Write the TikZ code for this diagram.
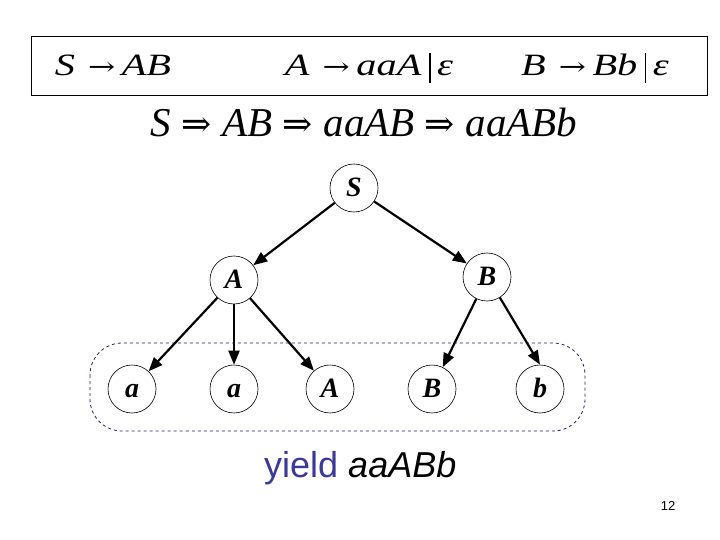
\documentclass[tikz,border=0pt]{standalone}
\usepackage{fontspec}
\usepackage{graphicx}
\setmainfont{Liberation Serif}
\newfontfamily\sansf{Liberation Sans}
\newfontfamily\symf{DejaVu Serif}
\usetikzlibrary{arrows.meta}
\definecolor{yieldblue}{RGB}{58,58,150}
\definecolor{dashnavy}{RGB}{30,30,100}
\newcommand{\ra}{\hspace{10pt}{\symf\fontsize{25}{25}\selectfont →}\hspace{5pt}}
\newcommand{\Ra}{\hspace{10pt}{\symf\fontsize{36}{36}\selectfont ⇒}\hspace{11pt}}
\newcommand{\tbar}{\hspace{6pt}\rule[-7pt]{1pt}{30pt}\hspace{5pt}}
\begin{document}
\begin{tikzpicture}[x=1pt,y=-1pt,
  tnode/.style={circle,draw,line width=0.6pt,minimum size=48pt,inner sep=0pt,
    text height=17pt,text depth=0pt,
    font=\fontsize{28}{28}\selectfont\bfseries\itshape},
  arr/.style={-{Triangle[length=14pt,width=11pt]},line width=2.2pt},
  gram/.style={font=\fontsize{31}{31}\selectfont,inner sep=0pt,anchor=base},
  deriv/.style={font=\fontsize{41}{41}\selectfont,inner sep=0pt,anchor=base}]
\useasboundingbox (0,0) rectangle (720,540);
% grammar box
\draw[line width=1pt] (31,37) rectangle (707,96);
\node[gram] (g1) at (113,76) {\scalebox{1.3}[1]{\textit{S}\ra\textit{AB}}};
\node[gram] (g2) at (369,76) {\scalebox{1.3}[1]{\textit{A}\ra\textit{aaA}\tbar\textit{ε}}};
\node[gram] (g3) at (595,76) {\scalebox{1.3}[1]{\textit{B}\ra\textit{Bb}\tbar\textit{ε}}};
% derivation
\node[deriv] (d) at (364,137) {\textit{S}\Ra\textit{AB}\Ra\textit{aaAB}\Ra\textit{aaABb}};
% tree
\node[tnode] (S) at (354,188) {S};
\node[tnode] (A) at (234,280) {A};
\node[tnode] (B) at (487,277) {B};
\node[tnode] (a1) at (132,389) {a};
\node[tnode] (a2) at (234,389) {a};
\node[tnode] (A2) at (330,389) {A};
\node[tnode] (B2) at (432,389) {B};
\node[tnode] (b) at (540,389) {b};
\draw[arr] (S) -- (A);
\draw[arr] (S) -- (B);
\draw[arr] (A) -- (a1);
\draw[arr] (A) -- (a2);
\draw[arr] (A) -- (A2);
\draw[arr] (B) -- (B2);
\draw[arr] (B.-58) -- (b.north);
% yield outline
\draw[dashnavy,dashed,line width=0.8pt,rounded corners=32pt] (90,343) rectangle (585,431);
\node[inner sep=0pt,anchor=west,font=\sansf\fontsize{36}{36}\selectfont] (y) at (264,468)
  {\textcolor{yieldblue}{yield} \textit{aaABb}};
\node[inner sep=0pt,font=\sansf\fontsize{13}{13}\selectfont] (pn) at (668,506) {12};
\end{tikzpicture}
\end{document}
